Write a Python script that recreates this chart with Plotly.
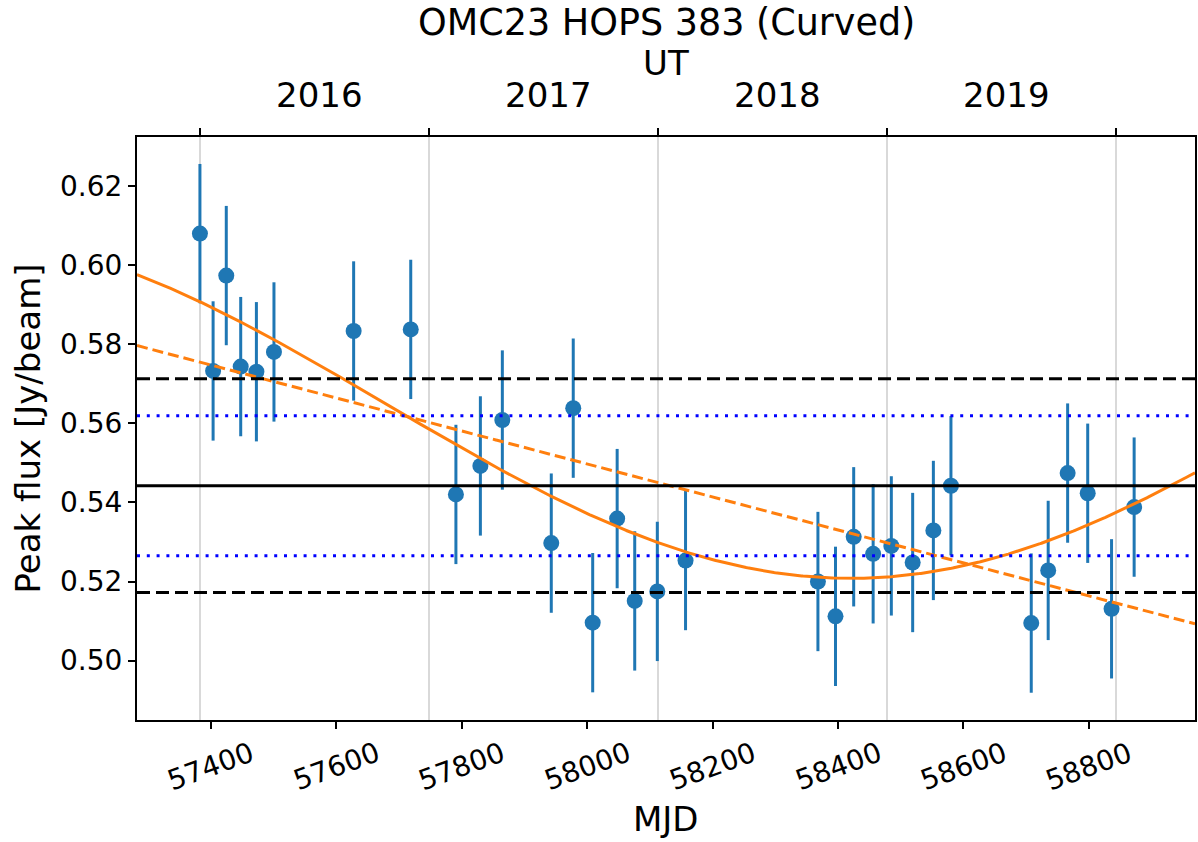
import numpy as np
import plotly.graph_objects as go

# ---------------- data ----------------
mjd = [57383, 57404, 57425, 57448, 57473, 57501, 57628, 57719, 57791, 57830,
       57865, 57943, 57978, 58009, 58048, 58076, 58112, 58157, 58368, 58396,
       58425, 58456, 58485, 58519, 58552, 58580, 58708, 58735, 58766, 58798,
       58836, 58872]
flux = [0.6079, 0.5732, 0.5973, 0.5743, 0.5730, 0.5780, 0.5833, 0.5837, 0.5420, 0.5492,
        0.5608, 0.5297, 0.5638, 0.5096, 0.5359, 0.5151, 0.5175, 0.5253, 0.5200, 0.5112,
        0.5313, 0.5270, 0.5290, 0.5248, 0.5329, 0.5442, 0.5095, 0.5228, 0.5474, 0.5423,
        0.5131, 0.5388]
flux_err = [0.0176, 0.0176, 0.0176, 0.0176, 0.0176, 0.0176, 0.0176, 0.0176,
            0.0176, 0.0176, 0.0176, 0.0176, 0.0176, 0.0176, 0.0176, 0.0176,
            0.0176, 0.0176, 0.0176, 0.0176, 0.0176, 0.0176, 0.0176, 0.0176,
            0.0176, 0.0176, 0.0176, 0.0176, 0.0176, 0.0176, 0.0176, 0.0176]

mean_flux = 0.5442
std_flux = 0.0270
median_err = 0.0177

# fitted models (parameters)
sin_offset = 0.5646
sin_amp = 0.0438
sin_period = 2950.0
sin_min_mjd = 58420.0
lin_ref_mjd = 57283.0
lin_ref_flux = 0.5796
lin_slope = -4.169e-5

year_labels = ["2016", "2017", "2018", "2019"]
year_edges_mjd = [57383.6, 57748.6, 58113.6, 58478.6, 58843.6]
year_label_mjd = [57574, 57939, 58304, 58669]

x_ticks = [57400, 57600, 57800, 58000, 58200, 58400, 58600, 58800]
y_ticks = [0.50, 0.52, 0.54, 0.56, 0.58, 0.60, 0.62]

x_range = [57282.7, 58969.0]
y_range = [0.48501, 0.63231]

# ---------------- figure ----------------
FONT = "DejaVu Sans"
BLUE = "#1f77b4"
ORANGE = "#ff7f0e"

xx = np.linspace(x_range[0], x_range[1], 800)
sin_curve = sin_offset - sin_amp * np.cos(2 * np.pi * (xx - sin_min_mjd) / sin_period)
lin_curve = lin_ref_flux + lin_slope * (xx - lin_ref_mjd)

fig = go.Figure()

fig.add_trace(go.Scatter(
    x=mjd, y=flux, mode="markers",
    marker=dict(color=BLUE, size=16, line=dict(width=0)),
    error_y=dict(type="data", array=flux_err, visible=True, color=BLUE,
                 thickness=3, width=0),
    showlegend=False, xaxis="x", yaxis="y"))

fig.add_trace(go.Scatter(x=xx, y=sin_curve, mode="lines",
                         line=dict(color=ORANGE, width=3), showlegend=False))
fig.add_trace(go.Scatter(x=xx, y=lin_curve, mode="lines",
                         line=dict(color=ORANGE, width=3, dash="11px,5px"),
                         showlegend=False))


def hline(yv, color, dash, width=3):
    fig.add_trace(go.Scatter(x=x_range, y=[yv, yv], mode="lines",
                             line=dict(color=color, width=width, dash=dash),
                             showlegend=False, hoverinfo="skip"))


hline(mean_flux, "black", "solid")
hline(mean_flux + std_flux, "black", "13px,6px")
hline(mean_flux - std_flux, "black", "13px,6px")
hline(mean_flux + median_err, "blue", "3px,6.8px")
hline(mean_flux - median_err, "blue", "3px,6.8px")

fig.add_trace(go.Scatter(x=[x_range[0]], y=[y_range[0]], mode="markers",
                         marker=dict(opacity=0), xaxis="x2", yaxis="y",
                         showlegend=False, hoverinfo="skip"))

annotations = []
for t in x_ticks:
    annotations.append(dict(x=t, xref="x", y=0, yref="paper", yshift=-46,
                            text=str(t), showarrow=False, textangle=-20,
                            xanchor="center", yanchor="middle",
                            font=dict(family=FONT, size=28, color="black")))
for lbl, xm in zip(year_labels, year_label_mjd):
    annotations.append(dict(x=xm, xref="x", y=1, yref="paper", yshift=42,
                            text=lbl, showarrow=False,
                            xanchor="center", yanchor="middle",
                            font=dict(family=FONT, size=34, color="black")))
annotations.append(dict(x=0.5, xref="paper", y=1, yref="paper", yshift=74,
                        text="UT", showarrow=False, xanchor="center", yanchor="middle",
                        font=dict(family=FONT, size=34, color="black")))
annotations.append(dict(x=0.5, xref="paper", y=1, yref="paper", yshift=115,
                        text="OMC23 HOPS 383 (Curved)", showarrow=False,
                        xanchor="center", yanchor="middle",
                        font=dict(family=FONT, size=36.5, color="black")))
annotations.append(dict(x=0.5, xref="paper", y=0, yref="paper", yshift=-99,
                        text="MJD", showarrow=False, xanchor="center", yanchor="middle",
                        font=dict(family=FONT, size=34, color="black")))
annotations.append(dict(x=0, xref="paper", y=0.5, yref="paper", xshift=-110,
                        text="Peak flux [Jy/beam]", showarrow=False, textangle=-90,
                        xanchor="center", yanchor="middle",
                        font=dict(family=FONT, size=34, color="black")))

fig.update_layout(
    width=1198, height=842,
    margin=dict(l=137, r=1, t=137, b=122),
    paper_bgcolor="white", plot_bgcolor="white",
    font=dict(family=FONT, color="black"),
    xaxis=dict(range=x_range, tickvals=x_ticks, showticklabels=False,
               ticks="outside", ticklen=7, tickwidth=1.5, tickcolor="black",
               showline=True, linecolor="black", linewidth=2, mirror=False,
               showgrid=False, zeroline=False),
    xaxis2=dict(range=x_range, overlaying="x", side="top", anchor="y",
                tickvals=year_edges_mjd, showticklabels=False,
                ticks="outside", ticklen=7, tickwidth=1.5, tickcolor="black",
                showline=True, linecolor="black", linewidth=2,
                showgrid=True, gridcolor="#d9d9d9", gridwidth=1.5, zeroline=False),
    yaxis=dict(range=y_range, tickvals=y_ticks, tickformat=".2f",
               ticks="outside", ticklen=7, tickwidth=1.5, tickcolor="black",
               tickfont=dict(family=FONT, size=28, color="black"),
               showline=True, linecolor="black", linewidth=2, mirror=True,
               showgrid=False, zeroline=False),
    annotations=annotations,
    showlegend=False,
)

fig.write_html(
    "out.html",
    config={"responsive": False, "displayModeBar": False},
    post_script="document.body.style.margin='0';document.body.style.padding='0';"
                "document.body.style.overflow='hidden';",
)
